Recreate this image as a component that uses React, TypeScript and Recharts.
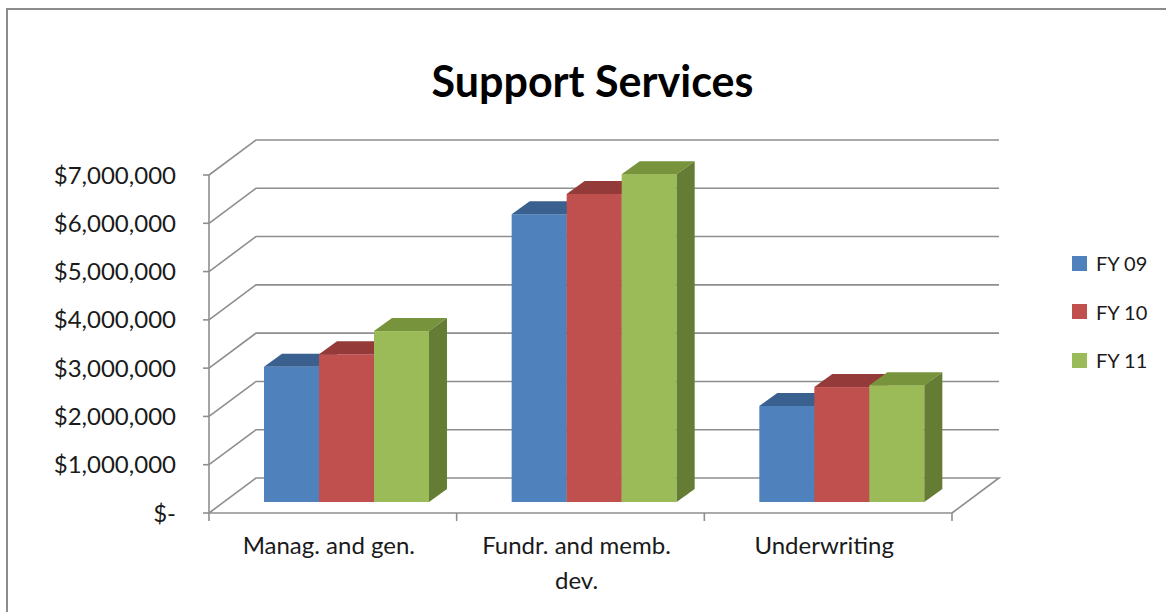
import React from 'react'
import { BarChart, Bar, XAxis, YAxis, CartesianGrid, Legend } from 'recharts'

const categories = ['Manag. and gen.', 'Fundr. and memb. dev.', 'Underwriting']
const fy09 = [2800000, 5960000, 1990000]
const fy10 = [3060000, 6380000, 2380000]
const fy11 = [3540000, 6790000, 2420000]
const seriesNames = ['FY 09', 'FY 10', 'FY 11']
const yTicks = [0, 1000000, 2000000, 3000000, 4000000, 5000000, 6000000, 7000000]

const data = categories.map((name, i) => ({
  name,
  fy09: fy09[i],
  fy10: fy10[i],
  fy11: fy11[i],
}))

const W = 1166
const H = 612
const PLOT_L = 209
const PLOT_R = 952
const PLOT_T = 175
const PLOT_B = 513
const BAND = (PLOT_R - PLOT_L) / categories.length

// 3d look: wall depth, bar offset inside the wall, bar depth
const DX = 47
const DY = 35
const SX = 14
const SY = 11
const BX = 18
const BY = 13

const FONT = 'Lato, "Open Sans", sans-serif'
const GRID = '#8e8e8e'

const colors = [
  { front: '#4F81BD', top: '#3A6090', side: '#34577F' },
  { front: '#C0504D', top: '#943A38', side: '#853432' },
  { front: '#9BBB59', top: '#77933C', side: '#657C34' },
]

const fmtMoney = (v: number) => (v === 0 ? '$-' : '$' + v.toLocaleString('en-US'))

// word wrap by character count, like excel does for long category names
const wrap = (s: string, max = 17) => {
  const lines: string[] = []
  let cur = ''
  s.split(' ').forEach((w) => {
    const next = cur ? cur + ' ' + w : w
    if (next.length > max && cur) {
      lines.push(cur)
      cur = w
    } else cur = next
  })
  if (cur) lines.push(cur)
  return lines
}

const gridLine = (props: any) => {
  const { x1, x2, y1, y, height, index } = props
  const bottom = Math.abs(y1 - (y + height)) < 1
  let d = `M${x1},${y1} L${x1 + DX},${y1 - DY} L${x2 + DX},${y1 - DY}`
  if (bottom) d += ` L${x2},${y1}`
  return <path key={`grid-${index}`} d={d} stroke={GRID} strokeWidth={1.6} fill="none" />
}

const makeShape = (c: { front: string; top: string; side: string }) => (props: any) => {
  const { x, y, width, height } = props
  if (height == null || width == null) return <g />
  const fx = x + SX
  const fy = y - SY
  const top = `M${fx},${fy} L${fx + BX},${fy - BY} L${fx + width + BX},${fy - BY} L${fx + width},${fy} Z`
  const side = `M${fx + width},${fy} L${fx + width + BX},${fy - BY} L${fx + width + BX},${fy + height - BY} L${fx + width},${fy + height} Z`
  return (
    <g>
      <rect x={fx} y={fy} width={width} height={height} fill={c.front} />
      <path d={top} fill={c.top} />
      <path d={side} fill={c.side} />
    </g>
  )
}

const XTick = (props: any) => {
  const { x, payload, index } = props
  const left = x - BAND / 2
  const lines = wrap(String(payload.value))
  return (
    <g>
      <line x1={left} y1={PLOT_B} x2={left} y2={PLOT_B + 8} stroke={GRID} strokeWidth={1.6} />
      {index === categories.length - 1 && (
        <line x1={x + BAND / 2} y1={PLOT_B} x2={x + BAND / 2} y2={PLOT_B + 8} stroke={GRID} strokeWidth={1.6} />
      )}
      <text
        x={x - 4}
        y={PLOT_B + 41}
        textAnchor="middle"
        fontSize={24}
        fontFamily={FONT}
        fill="#1a1a1a"
      >
        {lines.map((l, i) => (
          <tspan key={i} x={x - 4} dy={i === 0 ? 0 : 35}>
            {l}
          </tspan>
        ))}
      </text>
    </g>
  )
}

const renderLegend = () => (
  <div style={{ fontFamily: FONT, fontSize: 20, color: '#1a1a1a' }}>
    {seriesNames.map((s, i) => (
      <div key={s} style={{ display: 'flex', alignItems: 'center', height: 48.5 }}>
        <span style={{ display: 'inline-block', width: 15, height: 15, background: colors[i].front, marginRight: 9 }} />
        <span>{s}</span>
      </div>
    ))}
  </div>
)

export default function App() {
  return (
    <div style={{ position: 'fixed', left: 0, top: 0, width: W, height: H, overflow: 'hidden', background: '#fff' }}>
      <div
        style={{
          position: 'absolute',
          left: 6,
          top: 8,
          width: 1300,
          height: 800,
          border: '2px solid #8c8c8c',
        }}
      />
      <div
        style={{
          position: 'absolute',
          left: 0,
          width: 1185,
          top: 55,
          textAlign: 'center',
          fontFamily: FONT,
          fontWeight: 700,
          fontSize: 43,
          lineHeight: '52px',
          color: '#000',
        }}
      >
        Support Services
      </div>
      <div style={{ position: 'absolute', left: 0, top: 0 }}>
        <BarChart
          width={W}
          height={H}
          data={data}
          barGap={0}
          barSize={55}
          margin={{ top: PLOT_T, right: W - PLOT_R, bottom: H - PLOT_B - 60, left: PLOT_L - 190 }}
        >
          <CartesianGrid vertical={false} horizontal={gridLine} />
          <XAxis
            dataKey="name"
            height={60}
            tickLine={false}
            axisLine={{ stroke: GRID, strokeWidth: 1.6 }}
            tick={<XTick />}
            interval={0}
          />
          <YAxis
            width={190}
            domain={[0, 7000000]}
            ticks={yTicks}
            tickFormatter={fmtMoney}
            tickSize={6}
            tickMargin={27}
            axisLine={{ stroke: GRID, strokeWidth: 1.6 }}
            tickLine={{ stroke: GRID, strokeWidth: 1.6 }}
            tick={{ fontSize: 24, fontFamily: FONT, fill: '#1a1a1a' }}
          />
          <Legend
            layout="vertical"
            align="center"
            verticalAlign="middle"
            content={renderLegend}
            wrapperStyle={{ left: 1072, top: 239, width: 90 }}
          />
          <Bar dataKey="fy09" name={seriesNames[0]} fill={colors[0].front} shape={makeShape(colors[0])} isAnimationActive={false} />
          <Bar dataKey="fy10" name={seriesNames[1]} fill={colors[1].front} shape={makeShape(colors[1])} isAnimationActive={false} />
          <Bar dataKey="fy11" name={seriesNames[2]} fill={colors[2].front} shape={makeShape(colors[2])} isAnimationActive={false} />
        </BarChart>
      </div>
    </div>
  )
}
